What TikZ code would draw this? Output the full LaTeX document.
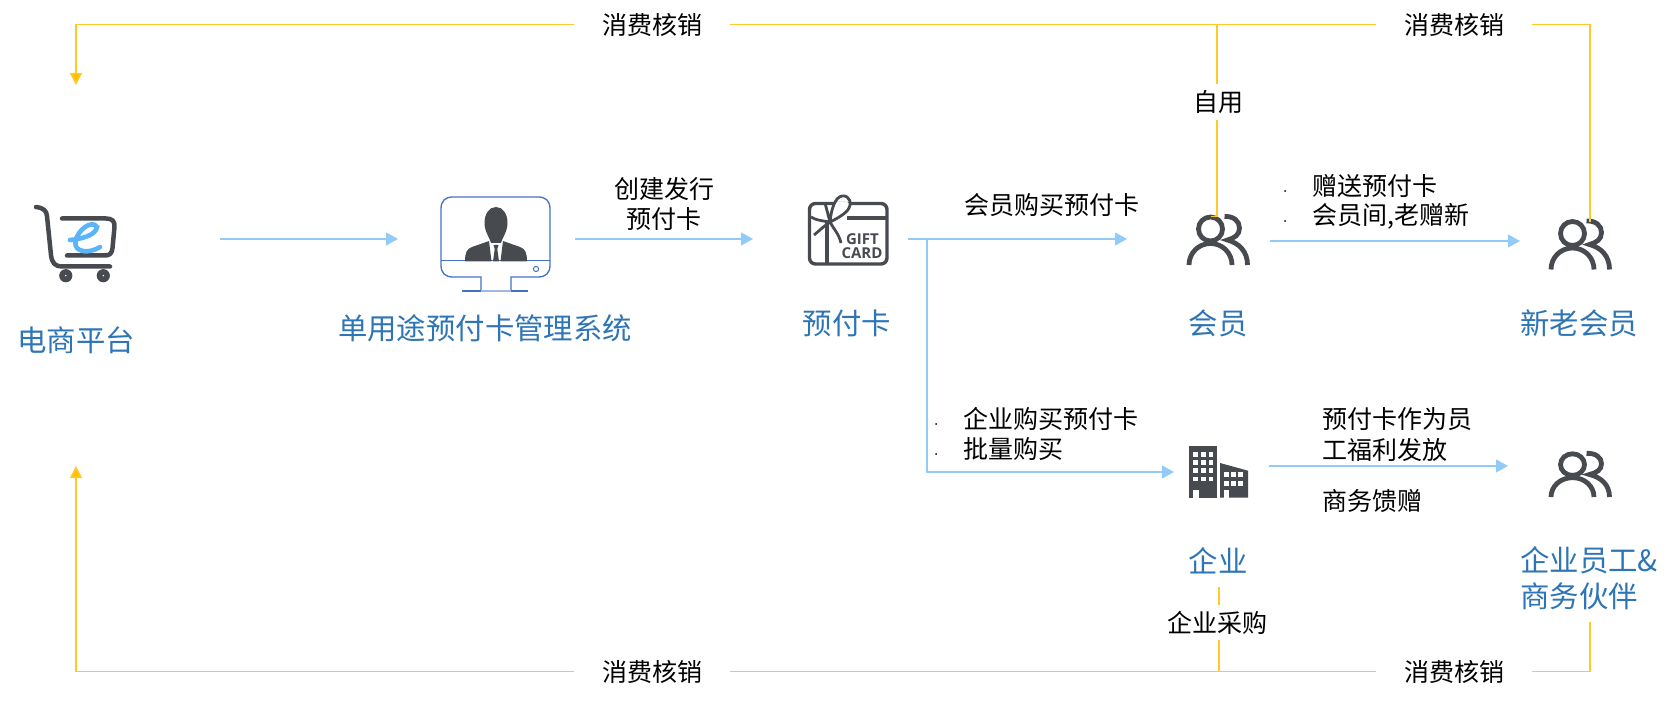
\documentclass[tikz,border=0pt]{standalone}
\usepackage{fontspec}
\setmainfont{Noto Sans CJK SC}
\newfontfamily\giftfont{Open Sans}
\usetikzlibrary{arrows.meta}
\definecolor{iconc}{HTML}{474A4F}
\definecolor{bluet}{HTML}{2E75B6}
\definecolor{bluel}{HTML}{92CBF7}
\definecolor{orangel}{HTML}{FFC000}
\definecolor{monc}{HTML}{4472C4}
\definecolor{ecol}{HTML}{5BB4F5}
\tikzset{
  lab/.style={font=\fontsize{25}{25}\selectfont,text=black,inner sep=0pt,anchor=center},
  labl/.style={lab,anchor=west},
  ttl/.style={font=\fontsize{29.4}{29.4}\selectfont,text=bluet,inner sep=0pt,anchor=center},
  ttll/.style={ttl,anchor=west},
  gapnode/.style={lab,minimum width=156pt,minimum height=30pt},
  dot/.style={circle,fill=black,inner sep=0pt,minimum size=2pt},
  bl/.style={draw=bluel,line width=1.1pt},
  blarrow/.style={bl,-{Triangle[length=12pt,width=13pt,fill=bluel]}},
  ol/.style={draw=orangel!85!white,line width=1.5pt},
  olarrow/.style={ol,-{Triangle[length=12pt,width=12pt,fill=orangel]}},
  people/.pic={
    \draw[iconc,line width=4.8pt] (0,-36) circle[radius=12];
    \draw[iconc,line width=4.8pt] (-21.5,0) .. controls (-21.5,-12) and (-12,-21.5) .. (0,-21.5) .. controls (12,-21.5) and (21.5,-12) .. (21.5,0);
    \draw[iconc,line width=4.8pt] (14,-48.5) .. controls (23,-49) and (29,-44) .. (29,-37) .. controls (29,-30) and (24,-27) .. (17,-25) .. controls (28,-22) and (37,-14) .. (37,0);
  }
}
\begin{document}
\begin{tikzpicture}[x=1pt,y=-1pt]
\useasboundingbox (0,0) rectangle (1674,703);
% labels on the yellow lines
\node[gapnode] (ct1) at (652,24.5) {消费核销};
\node[gapnode] (ct2) at (1454,24.5) {消费核销};
\node[gapnode] (cb1) at (652,671.5) {消费核销};
\node[gapnode] (cb2) at (1454,671.5) {消费核销};
\node[lab,minimum height=35pt] (ziyong) at (1218,102) {自用};
\node[lab,minimum height=35pt] (qycg) at (1217,622.5) {企业采购};
% text labels
\node[lab] (cj1) at (664,189) {创建发行};
\node[lab] (cj2) at (664,219) {预付卡};
\node[lab] (hygm) at (1052,205) {会员购买预付卡};
\node[labl] (zs1) at (1312,186) {赠送预付卡};
\node[labl] (zs2) at (1312,216) {会员间,老赠新};
\node[dot] (d1) at (1285,191) {};
\node[dot] (d2) at (1285,221) {};
\node[labl] (qy1) at (963,418.5) {企业购买预付卡};
\node[labl] (qy2) at (963,449.5) {批量购买};
\node[dot] (d3) at (936,424) {};
\node[dot] (d4) at (936,454) {};
\node[labl] (fl1) at (1322,419.5) {预付卡作为员};
\node[labl] (fl2) at (1322,449.5) {工福利发放};
\node[labl] (sw) at (1322,501) {商务馈赠};
% titles
\node[ttl] (t1) at (76,340.5) {电商平台};
\node[ttl] (t2) at (485,328) {单用途预付卡管理系统};
\node[ttl] (t3) at (847,323.5) {预付卡};
\node[ttl] (t4) at (1218,323.5) {会员};
\node[ttl] (t5) at (1579,323.5) {新老会员};
\node[ttl] (t6) at (1218,560.5) {企业};
\node[ttll] (t7) at (1520,560.5) {企业员工\&};
\node[ttll] (t8) at (1520,596.5) {商务伙伴};
% connector ends
\coordinate (a1s) at (220,239);  \coordinate (a1e) at (398,239);
\coordinate (a2s) at (575,239);  \coordinate (a2e) at (753,239);
\coordinate (a3s) at (908,239);  \coordinate (a3e) at (1127,239);
\coordinate (a4s) at (927,239);  \coordinate (a4c) at (927,472); \coordinate (a4e) at (1174,472);
\coordinate (a5s) at (1270,241); \coordinate (a5e) at (1520,241);
\coordinate (a6s) at (1269,466); \coordinate (a6e) at (1508,466);
\coordinate (tl) at (76,24.5);   \coordinate (tle) at (76,85);
\coordinate (tr) at (1590,24.5); \coordinate (tre) at (1590,222);
\coordinate (zt) at (1217,24.5); \coordinate (zb) at (1217,216.5); \coordinate (zh) at (1211,216.5);
\coordinate (bl) at (76,671.5);  \coordinate (ble) at (76,466);
\coordinate (br) at (1590,671.5);\coordinate (bre) at (1590,622);
\coordinate (qb) at (1219,671.5);\coordinate (qt) at (1219,587);
% people icons
\pic at (1210.5,265) {people};
\pic at (1572.5,269.5) {people};
\pic[xscale=1,yscale=.9] at (1572.5,497) {people};
% blue connectors
\draw[blarrow] (a1s) -- (a1e);
\draw[blarrow] (a2s) -- (a2e);
\draw[blarrow] (a3s) -- (a3e);
\draw[blarrow] (a4s) -- (a4c) -- (a4e);
\draw[blarrow] (a5s) -- (a5e);
\draw[blarrow] (a6s) -- (a6e);
% yellow connectors
\draw[olarrow] (ct1.west) -- (tl) -- (tle);
\draw[ol] (ct1.east) -- (ct2.west);
\draw[ol] (ct2.east) -- (tr) -- (tre);
\draw[ol] (zt) -- (ziyong.north -| zt);
\draw[ol] (ziyong.south -| zt) -- (zb) -- (zh);
\draw[olarrow] (cb1.west) -- (bl) -- (ble);
\draw[ol] (cb1.east) -- (cb2.west);
\draw[ol] (cb2.east) -- (br) -- (bre);
\draw[ol] (qb) -- (qycg.south -| qb);
\draw[ol] (qycg.north -| qb) -- (qt);
% cart icon
\draw[iconc,line width=4.5pt,line cap=round,line join=round]
  (36,207) .. controls (44,208) and (46.5,211) .. (47,216) -- (51,255) .. controls (52,263) and (55,266.5) .. (62,266.5) -- (110,266.5);
\draw[iconc,line width=4.5pt,line cap=round,line join=round]
  (62,218.5) -- (106,218.5) .. controls (112,218.5) and (115,221) .. (114.5,227) -- (112.5,248) .. controls (112,253) and (110,255.5) .. (105,255.5) -- (67,255.5);
\fill[iconc] (65.8,275.7) circle[radius=6.6];
\fill[iconc] (103.3,275.7) circle[radius=6.6];
\fill[white] (65.8,275.7) circle[radius=.8];
\fill[white] (103.3,275.7) circle[radius=.8];
\draw[ecol,line width=4.6pt,line cap=round]
  (70,240) .. controls (82,239) and (96,235) .. (97,227) .. controls (95,223) and (89,224) .. (85,227) .. controls (77,233) and (73,243) .. (77,248) .. controls (82,253) and (92,252) .. (100,247);
% monitor icon
\draw[monc,line width=1.3pt] (453,197) -- (538,197) .. controls (546,197) and (550,201) .. (550,209) -- (550,265) .. controls (550,273) and (546,277) .. (538,277) -- (511,277) -- (511,291);
\draw[monc,line width=1.3pt] (453,197) .. controls (445,197) and (441,201) .. (441,209) -- (441,265) .. controls (441,273) and (445,277) .. (453,277) -- (481,277) -- (481,291);
\draw[monc,line width=1.2pt] (441,260.7) -- (550,260.7);
\draw[monc,line width=1.2pt] (462,291) -- (481,291);
\draw[monc,line width=1.2pt] (511,291) -- (528,291);
\draw[monc!50!white,line width=1.6pt] (481,291) -- (511,291);
\draw[monc,line width=1pt] (536,269) circle[radius=2.6];
\fill[iconc] (496,207) .. controls (489,207) and (484.5,214) .. (484.5,223) .. controls (484.5,232) and (490,238) .. (491,243) -- (501,243) .. controls (502,238) and (507.5,232) .. (507.5,223) .. controls (507.5,214) and (503,207) .. (496,207) -- cycle;
\fill[iconc] (465,261.5) .. controls (465,252) and (467,249) .. (472,247) -- (489,241) -- (491.5,261.5) -- cycle;
\fill[iconc] (527,261.5) .. controls (527,252) and (525,249) .. (520,247) -- (503,241) -- (500.5,261.5) -- cycle;
\fill[iconc] (493.5,245) -- (498.5,245) -- (497.3,249) -- (499,261.5) -- (493,261.5) -- (494.7,249) -- cycle;
% gift card icon
\draw[iconc,line width=3.4pt,rounded corners=6pt] (809.5,203.5) rectangle (887,264);
\draw[iconc,line width=3.6pt] (847,218) -- (887,218);
\draw[iconc,line width=3.4pt] (827,222) -- (827,264);
\draw[white,line width=5pt,line cap=round] (837,205) -- (847,205);
\draw[iconc,line width=2.8pt,line join=round]
  (830,222) .. controls (831,210) and (835,197) .. (842,196) .. controls (850,195) and (853,204) .. (847,211) .. controls (842,216) and (836,219) .. (830,222)
  .. controls (823,221) and (815,220) .. (811,217) (830,222) .. controls (824,226) and (819,231) .. (814,235)
  (825,203) -- (830,222) (830,222) .. controls (833,228) and (839,234) .. (841,243);
\node[font=\giftfont\bfseries\fontsize{15}{15}\selectfont,text=iconc,inner sep=0pt] (gift) at (862.5,239.5) {GIFT};
\node[font=\giftfont\bfseries\fontsize{15}{15}\selectfont,text=iconc,inner sep=0pt] (card) at (862,253.5) {CARD};
% building icon
\fill[iconc] (1189,446) rectangle (1217,497.7);
\fill[iconc] (1220,463) -- (1248,470.7) -- (1248,497.7) -- (1220,497.7) -- cycle;
\foreach \r in {0,1,2,3}{\foreach \c in {0,1,2}{
  \fill[white] ({1193+\c*7.8},{452+\r*8.2}) rectangle ++(4.8,4.8);}}
\foreach \r in {0,1}{\foreach \c in {0,1,2}{
  \fill[white] ({1224+\c*7.2},{472+\r*9}) rectangle ++(4.6,5);}}
\fill[white] (1193,490) rectangle (1198.5,497.7);
\fill[white] (1224,490) rectangle (1229,497.7);
\end{tikzpicture}
\end{document}
